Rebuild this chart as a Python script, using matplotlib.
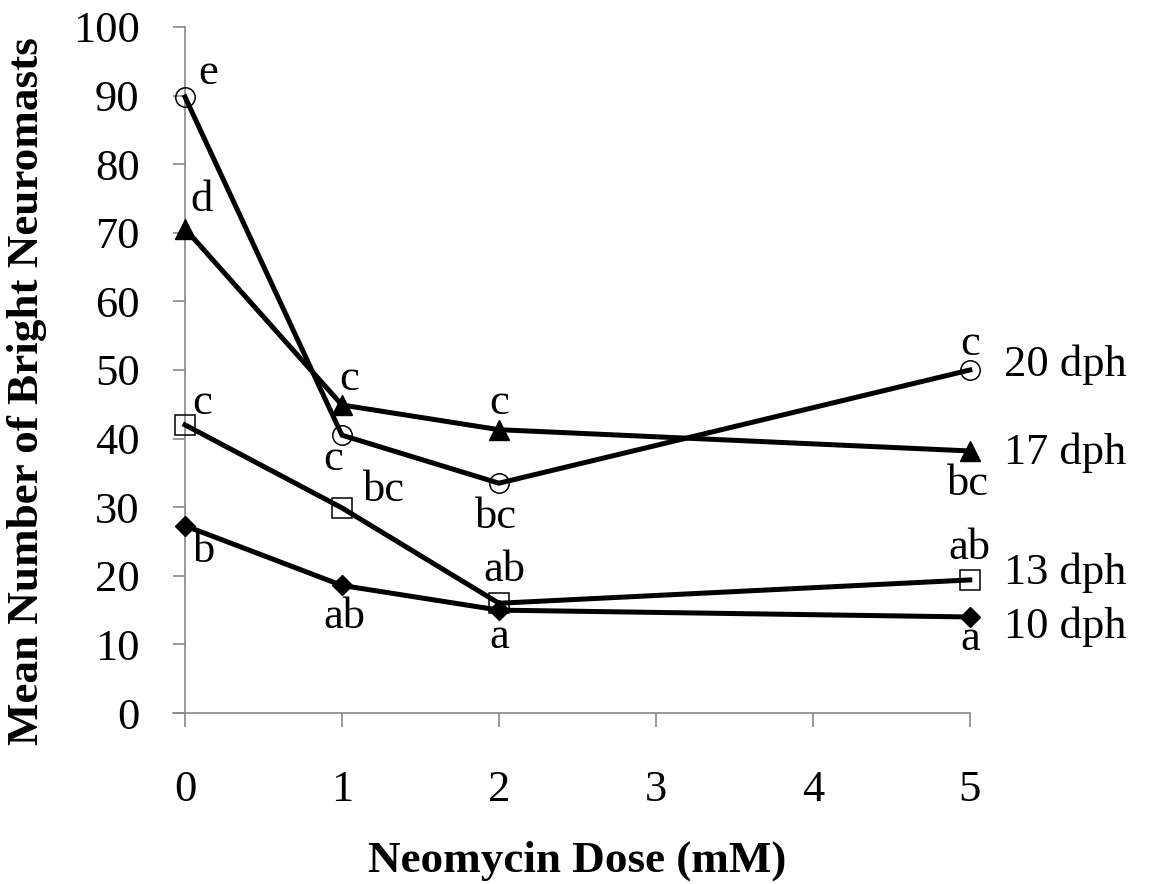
import matplotlib
matplotlib.use("Agg")
import matplotlib.pyplot as plt

dose = [0, 1, 2, 5]
dph20 = [89.8, 40.5, 33.5, 50.0]
dph17 = [70.6, 44.9, 41.3, 38.2]
dph13 = [42.0, 29.9, 16.0, 19.4]
dph10 = [27.3, 18.6, 15.0, 14.0]

letters20 = ["e", "c", "bc", "c"]
letters17 = ["d", "c", "c", "bc"]
letters13 = ["c", "bc", "ab", "ab"]
letters10 = ["b", "ab", "a", "a"]

series_names = ["20 dph", "17 dph", "13 dph", "10 dph"]
xticks = [0, 1, 2, 3, 4, 5]
yticks = list(range(0, 101, 10))

plt.rcParams['font.family'] = ['Liberation Serif', 'DejaVu Serif']

fig = plt.figure(figsize=(11.49, 8.84), dpi=100)
ax = fig.add_axes([0.161, 0.1934, 0.683, 0.7761])

lw = 3.6
common = dict(color='black', lw=lw, clip_on=False, zorder=3)
ax.plot(dose, dph20, marker='o', ms=14, mfc='none', mec='black', mew=1.1, **common)
ax.plot(dose, dph17, marker='^', ms=14, mfc='black', mec='black', **common)
ax.plot(dose, dph13, marker='s', ms=14, mfc='none', mec='black', mew=1.1, **common)
ax.plot(dose, dph10, marker='D', ms=10, mfc='black', mec='black', **common)

ax.set_xlim(0, 5)
ax.set_ylim(0, 100)
ax.set_xticks(xticks)
ax.set_yticks(yticks)
ax.tick_params(axis='x', length=10, width=1.2, color='#888888', pad=31, labelsize=32)
ax.tick_params(axis='y', length=8.6, width=1.2, color='#888888', pad=24, labelsize=32)
for s in ['top', 'right']:
    ax.spines[s].set_visible(False)
for s in ['left', 'bottom']:
    ax.spines[s].set_color('#888888')
    ax.spines[s].set_linewidth(1.2)
ax.spines['bottom'].set_bounds(-0.075, 5)
ax.spines['bottom'].set_clip_on(False)

ax.set_xlabel("Neomycin Dose (mM)", fontsize=32.5, fontweight='bold', labelpad=22)
ax.set_ylabel("Mean Number of Bright Neuromasts", fontsize=32.5, fontweight='bold')
ax.yaxis.set_label_coords(-0.176, 0.47)

fs = 32
def lab(x, y, t, dx, dy):
    ax.annotate(t, (x, y), xytext=(dx, dy), textcoords='offset points',
                ha='center', va='center', fontsize=fs, annotation_clip=False)

# 20 dph
lab(dose[0], dph20[0], letters20[0], 17, 17)
lab(dose[1], dph20[1], letters20[1], -6.5, -17)
lab(dose[2], dph20[2], letters20[2], -2, -24)
lab(dose[3], dph20[3], letters20[3], 0, 19)
# 17 dph
lab(dose[0], dph17[0], letters17[0], 12, 21)
lab(dose[1], dph17[1], letters17[1], 5, 19)
lab(dose[2], dph17[2], letters17[2], 0, 19)
lab(dose[3], dph17[3], letters17[3], -1.5, -24)
# 13 dph
lab(dose[0], dph13[0], letters13[0], 12, 16)
lab(dose[1], dph13[1], letters13[1], 30, 13)
lab(dose[2], dph13[2], letters13[2], 4, 24)
lab(dose[3], dph13[3], letters13[3], 0, 23)
# 10 dph
lab(dose[0], dph10[0], letters10[0], 14, -18)
lab(dose[1], dph10[1], letters10[1], 1.5, -23)
lab(dose[2], dph10[2], letters10[2], 0, -19)
lab(dose[3], dph10[3], letters10[3], 0, -16)

# series labels at the right end of each line
ends = [dph20[-1], dph17[-1], dph13[-1], dph10[-1]]
offs = [4, -1, 5, -7]
for name, yv, o in zip(series_names, ends, offs):
    ax.annotate(name, (dose[-1], yv), xytext=(25, o), textcoords='offset points',
                ha='left', va='center', fontsize=32, annotation_clip=False)

fig.savefig("out.png", dpi=100)
